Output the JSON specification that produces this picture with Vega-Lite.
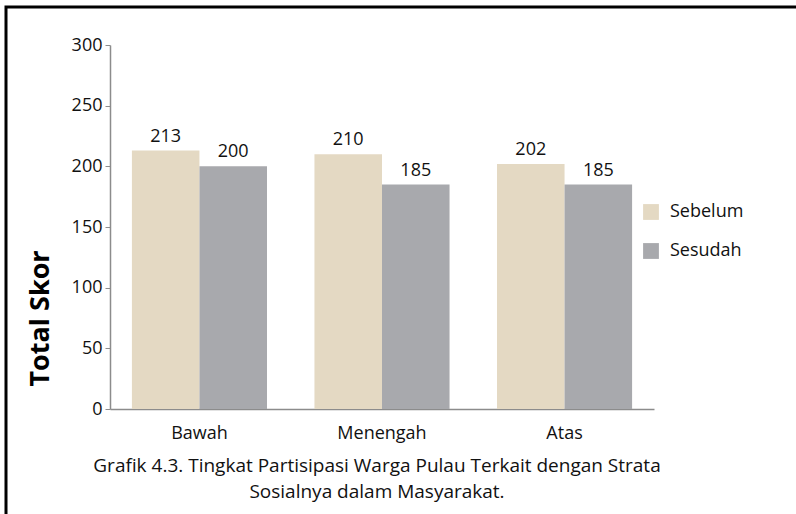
{
  "$schema": "https://vega.github.io/schema/vega-lite/v6.json",
  "width": 796,
  "height": 514,
  "autosize": {"type": "none"},
  "padding": {"left": 6, "top": 7, "right": 0, "bottom": 0},
  "background": "white",
  "title": {
    "text": ["Grafik 4.3. Tingkat Partisipasi Warga Pulau Terkait dengan Strata", "Sosialnya dalam Masyarakat."],
    "orient": "bottom",
    "anchor": "middle",
    "offset": -64,
    "dx": -27,
    "font": "Open Sans",
    "fontSize": 19,
    "fontWeight": "normal",
    "color": "#111111",
    "lineHeight": 26
  },
  "data": {
    "values": [
      {"strata": "Bawah", "waktu": "Sebelum", "skor": 213},
      {"strata": "Bawah", "waktu": "Sesudah", "skor": 200},
      {"strata": "Menengah", "waktu": "Sebelum", "skor": 210},
      {"strata": "Menengah", "waktu": "Sesudah", "skor": 185},
      {"strata": "Atas", "waktu": "Sebelum", "skor": 202},
      {"strata": "Atas", "waktu": "Sesudah", "skor": 185}
    ]
  },
  "encoding": {
    "x": {
      "field": "strata",
      "type": "nominal",
      "sort": ["Bawah", "Menengah", "Atas"],
      "scale": {"range": [104, 648], "paddingInner": 0.26, "paddingOuter": 0.12},
      "axis": {
        "title": null,
        "offset": -112,
        "labelAngle": 0,
        "ticks": false,
        "labelPadding": 15,
        "labelFont": "Open Sans",
        "labelFontSize": 18,
        "labelColor": "#111111",
        "domainColor": "#8c8c8c",
        "domainWidth": 1.5
      }
    },
    "xOffset": {
      "field": "waktu",
      "type": "nominal",
      "sort": ["Sebelum", "Sesudah"],
      "scale": {"paddingInner": 0, "paddingOuter": 0}
    },
    "y": {
      "field": "skor",
      "type": "quantitative",
      "scale": {"domain": [0, 300], "range": [402, 38], "nice": false},
      "axis": {
        "title": "Total Skor",
        "offset": -104,
        "values": [0, 50, 100, 150, 200, 250, 300],
        "grid": false,
        "tickSize": 5,
        "tickColor": "#8c8c8c",
        "domainColor": "#8c8c8c",
        "domainWidth": 1.5,
        "labelPadding": 3,
        "labelFont": "Open Sans",
        "labelFontSize": 18,
        "labelColor": "#111111",
        "titleFont": "Open Sans",
        "titleFontSize": 27,
        "titleFontWeight": "bold",
        "titleColor": "#000000",
        "titleAngle": 270,
        "titleAlign": "center",
        "titleBaseline": "middle",
        "titleX": -70,
        "titleY": 311
      }
    }
  },
  "layer": [
    {
      "mark": {"type": "bar"},
      "encoding": {
        "color": {
          "field": "waktu",
          "type": "nominal",
          "sort": ["Sebelum", "Sesudah"],
          "scale": {"domain": ["Sebelum", "Sesudah"], "range": ["#e4d9c3", "#a8a9ad"]},
          "legend": {
            "title": null,
            "orient": "none",
            "legendX": 636,
            "legendY": 196,
            "symbolType": "square",
            "symbolSize": 250,
            "symbolStrokeWidth": 0,
            "labelFont": "Open Sans",
            "labelFontSize": 18,
            "labelColor": "#111111",
            "labelOffset": 10,
            "rowPadding": 21
          }
        }
      }
    },
    {
      "mark": {"type": "text", "baseline": "bottom", "dy": -5, "font": "Open Sans", "fontSize": 18, "color": "#111111"},
      "encoding": {
        "text": {"field": "skor", "type": "quantitative"}
      }
    }
  ],
  "config": {
    "view": {"stroke": "#000000", "strokeWidth": 3}
  }
}
